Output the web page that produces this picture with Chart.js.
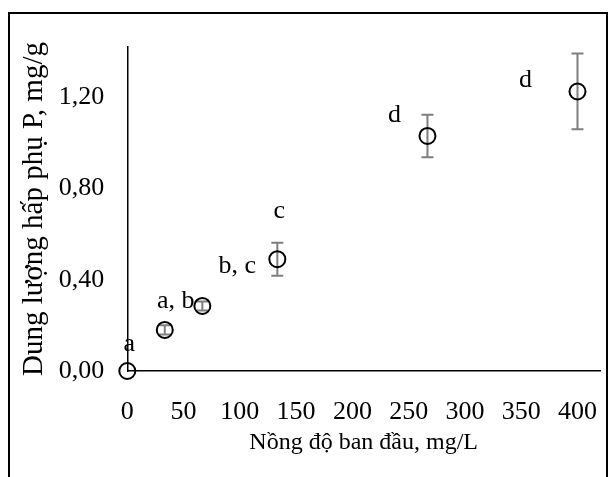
<!DOCTYPE html>
<html lang="vi">
<head>
<meta charset="UTF-8">
<title>Dung lượng hấp phụ P</title>
<script src="https://cdn.jsdelivr.net/npm/chart.js"></script>
<style>
  html, body { margin: 0; padding: 0; background: #fff; }
  #wrap { position: relative; width: 610px; height: 477px; overflow: hidden; }
  #frame { position: absolute; left: 8px; top: 12px; width: 600px; height: 480px;
           border: 2px solid #000; border-bottom: none; box-sizing: border-box; }
  canvas { position: absolute; left: 0; top: 0; }
</style>
</head>
<body>
<div id="wrap">
  <div id="frame"></div>
  <canvas id="chart" width="610" height="477"></canvas>
</div>

<script>
// data
const concentrations = [0, 33.3, 66.7, 133.3, 266.7, 400];   // mg/L
const capacity = [0, 0.18, 0.285, 0.49, 1.03, 1.225];        // mg/g
const stdErrors = [0, 0.02, 0.02, 0.072, 0.093, 0.166];
const groupLabels = ['a', 'a, b', 'b, c', 'c', 'd', 'd'];
const xTicks = [0, 50, 100, 150, 200, 250, 300, 350, 400];
const yTicks = [0, 0.4, 0.8, 1.2];

const FONT = 'Liberation Serif, Times New Roman, serif';
const TICK_SIZE = 26;

// where each letter sits relative to its point (px)
const labelOffsets = [[2, -27], [11, -29], [35, -40], [2, -48], [-33, -21], [-52, -11]];

const errorBars = {
    id: 'errorBars',
    beforeDatasetsDraw(chart) {
        const { ctx, scales: { x, y } } = chart;
        ctx.save();
        ctx.strokeStyle = '#7f7f7f';
        ctx.lineWidth = 2;
        concentrations.forEach((c, i) => {
            const e = stdErrors[i];
            if (!e) return;
            const px = x.getPixelForValue(c);
            const top = y.getPixelForValue(capacity[i] + e);
            const bot = y.getPixelForValue(capacity[i] - e);
            ctx.beginPath();
            ctx.moveTo(px, top); ctx.lineTo(px, bot);
            ctx.moveTo(px - 6, top); ctx.lineTo(px + 6, top);
            ctx.moveTo(px - 6, bot); ctx.lineTo(px + 6, bot);
            ctx.stroke();
        });
        ctx.restore();
    }
};

const letterLabels = {
    id: 'letterLabels',
    afterDatasetsDraw(chart) {
        const { ctx, scales: { x, y } } = chart;
        ctx.save();
        ctx.fillStyle = '#000';
        ctx.font = TICK_SIZE + 'px ' + FONT;
        ctx.textAlign = 'center';
        ctx.textBaseline = 'middle';
        groupLabels.forEach((txt, i) => {
            const px = x.getPixelForValue(concentrations[i]) + labelOffsets[i][0];
            const py = y.getPixelForValue(capacity[i]) + labelOffsets[i][1];
            ctx.fillText(txt, px, py);
        });
        ctx.restore();
    }
};

new Chart(document.getElementById('chart'), {
    type: 'scatter',
    data: {
        datasets: [{
            data: concentrations.map((c, i) => ({ x: c, y: capacity[i] })),
            clip: false,
            pointStyle: 'circle',
            pointRadius: 8,
            pointHoverRadius: 8,
            pointBorderWidth: 2,
            pointBorderColor: '#000',
            pointBackgroundColor: 'rgba(0,0,0,0)'
        }]
    },
    options: {
        responsive: false,
        animation: false,
        layout: { padding: { left: 13, top: 47, right: 10, bottom: 16 } },
        plugins: { legend: { display: false }, tooltip: { enabled: false } },
        scales: {
            x: {
                type: 'linear',
                min: 0,
                max: 420,
                afterBuildTicks: axis => { axis.ticks = xTicks.map(v => ({ value: v })); },
                // the tick labels fit inside the frame, no extra side room needed
                afterFit: axis => { axis.paddingLeft = 0; axis.paddingRight = 0; },
                grid: { display: false, drawTicks: false },
                border: { display: true, color: '#000', width: 1.5 },
                ticks: { color: '#000', padding: 26, maxRotation: 0,
                         font: { family: FONT, size: TICK_SIZE } },
                title: { display: true, text: 'Nồng độ ban đầu, mg/L', color: '#000',
                         padding: { top: -26, bottom: 4 }, font: { family: FONT, size: 24 } }
            },
            y: {
                min: 0,
                max: 1.42,
                afterBuildTicks: axis => { axis.ticks = yTicks.map(v => ({ value: v })); },
                grid: { display: false, drawTicks: false },
                border: { display: true, color: '#000', width: 1.5 },
                ticks: { color: '#000', padding: 23,
                         callback: v => v.toFixed(2).replace('.', ','),
                         font: { family: FONT, size: TICK_SIZE } },
                title: { display: true, text: 'Dung lượng hấp phụ P, mg/g', color: '#000',
                         padding: { top: 4, bottom: -16 }, font: { family: FONT, size: 29 } }
            }
        }
    },
    plugins: [errorBars, letterLabels]
});
</script>
</body>
</html>
